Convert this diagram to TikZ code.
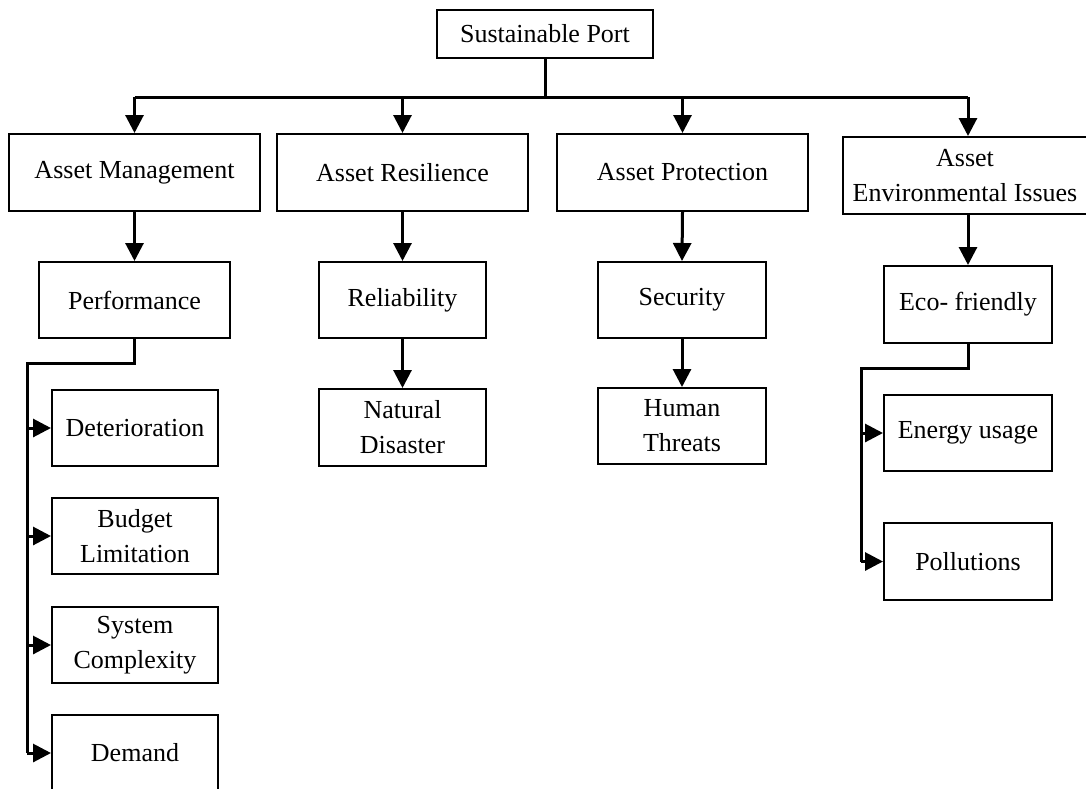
\documentclass[tikz,border=0pt]{standalone}
\usepackage{fontspec}
\setmainfont{Liberation Serif}
\usetikzlibrary{arrows.meta}
\begin{document}
\begin{tikzpicture}[x=1pt,y=-1pt,
  box/.style={draw,line width=2pt,minimum height=76pt,inner sep=0pt,align=center,
    font=\fontsize{26}{35}\selectfont},
  conn/.style={line width=3pt},
  arr/.style={line width=3pt,-{Triangle[length=18pt,width=18pt]}}]
\useasboundingbox (0,0) rectangle (1086,788);
\clip (0,0) rectangle (1086,788);
\fill[white] (0,0) rectangle (1086,788);
% top
\node[box,minimum width=216pt,minimum height=48pt] (SP) at (545,34) {Sustainable Port};
% level 1
\node[box,minimum width=251pt,minimum height=77pt] (AM) at (134.5,172.5) {Asset Management};
\node[box,minimum width=251pt,minimum height=77pt] (AR) at (402.5,172.5) {Asset Resilience};
\node[box,minimum width=251pt,minimum height=77pt] (AP) at (682.5,172.5) {Asset Protection};
\node[box,minimum width=244pt,minimum height=77pt] (AE) at (965,175.5) {Asset\\Environmental Issues};
% level 2
\node[box,minimum width=191pt] (PF) at (134.5,300) {Performance};
\node[box,minimum width=167pt] (RL) at (402.5,300) {Reliability};
\node[box,minimum width=168pt] (SC) at (682,300) {Security};
\node[box,minimum width=168pt,minimum height=77pt] (EF) at (968,304.5) {Eco- friendly};
% level 3
\node[box,minimum width=166pt] (DT) at (135,428) {Deterioration};
\node[box,minimum width=166pt] (BL) at (135,536) {Budget\\Limitation};
\node[box,minimum width=166pt] (SX) at (135,645) {System\\Complexity};
\node[box,minimum width=166pt] (DM) at (135,753) {Demand};
\node[box,minimum width=167pt,minimum height=77pt] (ND) at (402.5,427.5) {Natural\\Disaster};
\node[box,minimum width=168pt] (HT) at (682,426) {Human\\Threats};
\node[box,minimum width=168pt] (EU) at (968,433) {Energy usage};
\node[box,minimum width=168pt,minimum height=77pt] (PL) at (968,561.5) {Pollutions};
% bus
\coordinate (busY) at (0,97);
\draw[conn] (SP.south) -- (SP.south |- busY);
\draw[conn] (AM.north |- busY) -- (EF.north |- busY);
\draw[arr] (AM.north |- busY) -- (AM.north);
\draw[arr] (AR.north |- busY) -- (AR.north);
\draw[arr] (AP.north |- busY) -- (AP.north);
\draw[arr] (EF.north |- busY) -- (EF.north |- AE.north);
% level1 -> level2
\draw[arr] (AM.south) -- (PF.north);
\draw[arr] (AR.south) -- (RL.north);
\draw[arr] (AP.south) -- (SC.north);
\draw[arr] (EF.north |- AE.south) -- (EF.north);
% level2 -> level3
\draw[arr] (RL.south) -- (ND.north);
\draw[arr] (SC.south) -- (HT.north);
% performance branch
\coordinate (pl) at (27,363);
\draw[conn] (PF.south) -- (PF.south |- pl) -- (pl) -- (pl |- DM.west);
\draw[arr] (pl |- DT.west) -- (DT.west);
\draw[arr] (pl |- BL.west) -- (BL.west);
\draw[arr] (pl |- SX.west) -- (SX.west);
\draw[arr] (pl |- DM.west) -- (DM.west);
% eco branch
\coordinate (el) at (861,368);
\draw[conn] (EF.south) -- (EF.south |- el) -- (el) -- (el |- PL.west);
\draw[arr] (el |- EU.west) -- (EU.west);
\draw[arr] (el |- PL.west) -- (PL.west);
\end{tikzpicture}
\end{document}
